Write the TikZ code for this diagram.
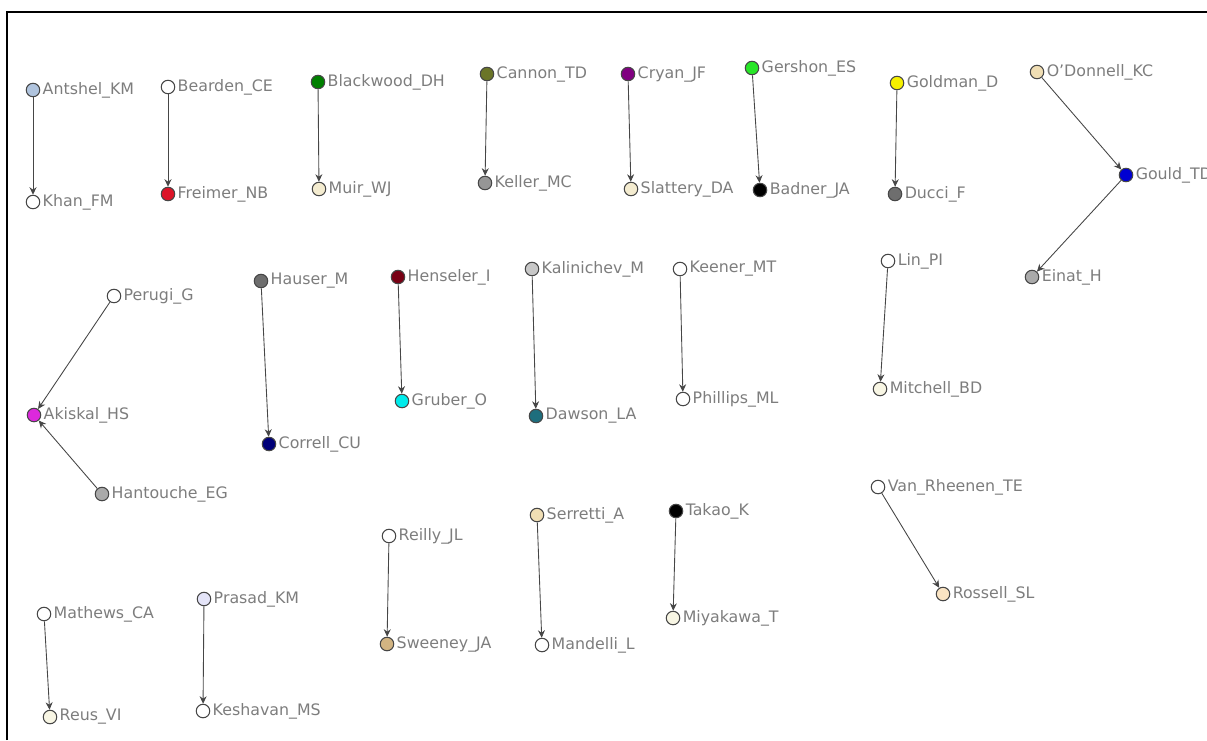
\documentclass[tikz,border=0pt]{standalone}
\usepackage{fontspec}
\setmainfont{DejaVu Sans}
\usetikzlibrary{arrows.meta}
\definecolor{lblgray}{RGB}{125,125,125}
\definecolor{rimgray}{RGB}{70,70,70}
\definecolor{linkgray}{RGB}{70,70,70}
\definecolor{csteel}{RGB}{176,196,222}
\definecolor{cred}{RGB}{220,20,40}
\definecolor{cgreen}{RGB}{0,128,0}
\definecolor{clime}{RGB}{40,230,40}
\definecolor{colive}{RGB}{107,117,40}
\definecolor{cpurple}{RGB}{128,0,128}
\definecolor{cyellow}{RGB}{245,240,0}
\definecolor{cblue}{RGB}{0,0,210}
\definecolor{cnavy}{RGB}{0,0,120}
\definecolor{cmaroon}{RGB}{120,0,20}
\definecolor{ccyan}{RGB}{0,235,235}
\definecolor{cteal}{RGB}{30,110,125}
\definecolor{cmagenta}{RGB}{220,40,220}
\definecolor{cgrayA}{RGB}{110,110,110}
\definecolor{cgrayB}{RGB}{150,150,150}
\definecolor{cgrayC}{RGB}{170,170,170}
\definecolor{cgrayD}{RGB}{200,200,200}
\definecolor{cbeige}{RGB}{240,222,180}
\definecolor{ctan}{RGB}{210,180,130}
\definecolor{cpeach}{RGB}{250,228,195}
\definecolor{ccream}{RGB}{244,236,208}
\definecolor{civory}{RGB}{248,246,228}
\definecolor{clavender}{RGB}{228,228,248}
\tikzset{
  dot/.style={circle, draw=rimgray, line width=0.6pt, fill=white,
    minimum size=0.27cm, inner sep=0pt},
  every label/.style={text=lblgray, font=\fontsize{9}{10}\selectfont,
    inner sep=1.2pt},
  link/.style={-{Stealth[length=1.5mm,width=1.4mm]}, line width=0.5pt, color=linkgray}
}

\begin{document}
\begin{tikzpicture}
  \useasboundingbox (0,0) rectangle (24.14,-14.8);
  \draw[line width=1.2pt] (0.14,-14.8) |- (24.14,-0.24);

  % top row
  \node[dot, fill=csteel, label=right:{Antshel\_KM}] (antshel) at (0.66,-1.80) {};
  \node[dot, label=right:{Khan\_FM}] (khan) at (0.66,-4.04) {};
  \node[dot, label=right:{Bearden\_CE}] (bearden) at (3.36,-1.74) {};
  \node[dot, fill=cred, label=right:{Freimer\_NB}] (freimer) at (3.36,-3.88) {};
  \node[dot, fill=cgreen, label=right:{Blackwood\_DH}] (blackwood) at (6.36,-1.64) {};
  \node[dot, fill=ccream, label=right:{Muir\_WJ}] (muir) at (6.38,-3.78) {};
  \node[dot, fill=colive, label=right:{Cannon\_TD}] (cannon) at (9.74,-1.48) {};
  \node[dot, fill=cgrayB, label=right:{Keller\_MC}] (keller) at (9.70,-3.66) {};
  \node[dot, fill=cpurple, label=right:{Cryan\_JF}] (cryan) at (12.56,-1.48) {};
  \node[dot, fill=ccream, label=right:{Slattery\_DA}] (slattery) at (12.62,-3.78) {};
  \node[dot, fill=clime, label=right:{Gershon\_ES}] (gershon) at (15.04,-1.36) {};
  \node[dot, fill=black, label=right:{Badner\_JA}] (badner) at (15.20,-3.80) {};
  \node[dot, fill=cyellow, label=right:{Goldman\_D}] (goldman) at (17.94,-1.66) {};
  \node[dot, fill=cgrayA, label=right:{Ducci\_F}] (ducci) at (17.90,-3.88) {};
  \node[dot, fill=cbeige, label=right:{O'Donnell\_KC}] (odonnell) at (20.74,-1.44) {};
  \node[dot, fill=cblue, label=right:{Gould\_TD}] (gould) at (22.52,-3.50) {};
  \node[dot, fill=cgrayC, label=right:{Einat\_H}] (einat) at (20.64,-5.54) {};

  % middle row
  \node[dot, label=right:{Perugi\_G}] (perugi) at (2.28,-5.92) {};
  \node[dot, fill=cmagenta, label=right:{Akiskal\_HS}] (akiskal) at (0.68,-8.30) {};
  \node[dot, fill=cgrayC, label=right:{Hantouche\_EG}] (hantouche) at (2.04,-9.88) {};
  \node[dot, fill=cgrayA, label=right:{Hauser\_M}] (hauser) at (5.22,-5.62) {};
  \node[dot, fill=cnavy, label=right:{Correll\_CU}] (correll) at (5.38,-8.88) {};
  \node[dot, fill=cmaroon, label=right:{Henseler\_I}] (henseler) at (7.96,-5.54) {};
  \node[dot, fill=ccyan, label=right:{Gruber\_O}] (gruber) at (8.04,-8.02) {};
  \node[dot, fill=cgrayD, label=right:{Kalinichev\_M}] (kalinichev) at (10.64,-5.38) {};
  \node[dot, fill=cteal, label=right:{Dawson\_LA}] (dawson) at (10.72,-8.32) {};
  \node[dot, label=right:{Keener\_MT}] (keener) at (13.60,-5.38) {};
  \node[dot, label=right:{Phillips\_ML}] (phillips) at (13.66,-7.98) {};
  \node[dot, label=right:{Lin\_PI}] (lin) at (17.76,-5.22) {};
  \node[dot, fill=civory, label=right:{Mitchell\_BD}] (mitchell) at (17.60,-7.78) {};

  % bottom row
  \node[dot, label=right:{Van\_Rheenen\_TE}] (vanrheenen) at (17.56,-9.74) {};
  \node[dot, fill=cpeach, label=right:{Rossell\_SL}] (rossell) at (18.86,-11.88) {};
  \node[dot, label=right:{Reilly\_JL}] (reilly) at (7.78,-10.72) {};
  \node[dot, fill=ctan, label=right:{Sweeney\_JA}] (sweeney) at (7.74,-12.88) {};
  \node[dot, fill=cbeige, label=right:{Serretti\_A}] (serretti) at (10.74,-10.30) {};
  \node[dot, label=right:{Mandelli\_L}] (mandelli) at (10.84,-12.90) {};
  \node[dot, fill=black, label=right:{Takao\_K}] (takao) at (13.52,-10.22) {};
  \node[dot, fill=civory, label=right:{Miyakawa\_T}] (miyakawa) at (13.46,-12.36) {};
  \node[dot, label=right:{Mathews\_CA}] (mathews) at (0.88,-12.28) {};
  \node[dot, fill=civory, label=right:{Reus\_VI}] (reus) at (1.00,-14.34) {};
  \node[dot, fill=clavender, label=right:{Prasad\_KM}] (prasad) at (4.08,-11.98) {};
  \node[dot, label=right:{Keshavan\_MS}] (keshavan) at (4.06,-14.22) {};

  \draw[link] (antshel) -- (khan);
  \draw[link] (bearden) -- (freimer);
  \draw[link] (blackwood) -- (muir);
  \draw[link] (cannon) -- (keller);
  \draw[link] (cryan) -- (slattery);
  \draw[link] (gershon) -- (badner);
  \draw[link] (goldman) -- (ducci);
  \draw[link] (odonnell) -- (gould);
  \draw[link] (gould) -- (einat);
  \draw[link] (perugi) -- (akiskal);
  \draw[link] (hantouche) -- (akiskal);
  \draw[link] (hauser) -- (correll);
  \draw[link] (henseler) -- (gruber);
  \draw[link] (kalinichev) -- (dawson);
  \draw[link] (keener) -- (phillips);
  \draw[link] (lin) -- (mitchell);
  \draw[link] (vanrheenen) -- (rossell);
  \draw[link] (reilly) -- (sweeney);
  \draw[link] (serretti) -- (mandelli);
  \draw[link] (takao) -- (miyakawa);
  \draw[link] (mathews) -- (reus);
  \draw[link] (prasad) -- (keshavan);

\end{tikzpicture}
\end{document}
